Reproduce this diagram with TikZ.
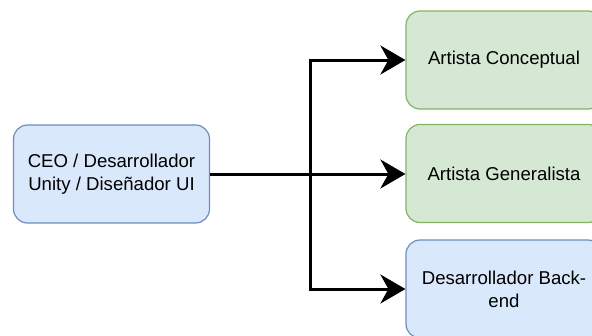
\documentclass[tikz,border=0pt]{standalone}
\usepackage{fontspec}
\setmainfont{Liberation Sans}
\usetikzlibrary{arrows.meta}
\definecolor{bluefill}{HTML}{DAE8FC}
\definecolor{bluedraw}{HTML}{6C8EBF}
\definecolor{greenfill}{HTML}{D5E8D4}
\definecolor{greendraw}{HTML}{82B366}
\begin{document}
\begin{tikzpicture}[x=1pt, y=-1pt,
	role/.style={shape=rectangle, rounded corners=14pt, line width=1.2pt, minimum width=196pt, minimum height=98pt, align=center, inner sep=0pt, font=\fontsize{18.6}{23}\selectfont},
	dev/.style={role, draw=bluedraw, fill=bluefill},
	art/.style={role, draw=greendraw, fill=greenfill},
	link/.style={line width=3pt, -{Stealth[length=25pt, width=29pt, inset=8pt]}}]
	\useasboundingbox (0, 0) rectangle (592, 335);
	\clip (0, 0) rectangle (592, 335);
	% Boxes:
	\node[dev] (ceo) at (111.5, 174) {CEO / Desarrollador\\Unity / Diseñador UI};
	\node[art] (concept) at (504, 60) {Artista Conceptual};
	\node[art] (general) at (504, 173.5) {Artista Generalista};
	\node[dev] (backend) at (504, 289) {Desarrollador Back-\\end};
	% Wires:
	\draw[link] (ceo.east) -- (ceo.east -| general.west);
	\draw[link] (ceo.east) -- ++(100, 0) |- (concept.west);
	\draw[link] (ceo.east) -- ++(100, 0) |- (backend.west);
\end{tikzpicture}
\end{document}
